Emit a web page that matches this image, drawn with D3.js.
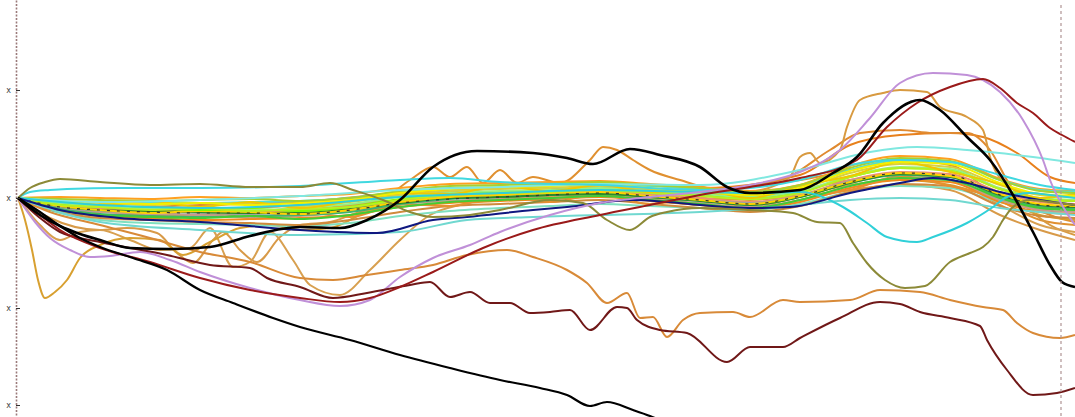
<!DOCTYPE html>
<html>
<head>
<meta charset="utf-8">
<script src="https://cdn.jsdelivr.net/npm/d3@7"></script>
<style>
  html, body { margin: 0; padding: 0; background: #fff; }
  svg { display: block; }
</style>
</head>
<body>
<svg id="chart" width="1075" height="417"></svg>
<script>
// --- data: step (x) and change from start (y) ---
const yTicks = [108, 0, -110, -207];
const yTickLabels = ['x', 'x', 'x', 'x'];

const blackLow = [[0,0],[22,-14],[42,-28],[62,-40],[82,-49],[115,-60],[149,-72],[182,-92],[215,-105],[255,-120],[282,-129],[332,-142],[382,-157],[432,-170],[482,-182],[522,-190],[549,-197],[572,-208],[589,-204],[615,-212],[632,-218],[662,-232]];
const blackHigh = [[0,0],[22,-17],[42,-28],[62,-36],[82,-42],[112,-50],[152,-51],[192,-49],[232,-38],[282,-29],[322,-30],[349,-22],[382,-2],[415,31],[459,47],[515,45],[549,40],[575,34],[612,49],[642,43],[682,31],[709,11],[732,5],[782,8],[815,25],[839,41],[865,75],[902,98],[922,88],[949,61],[972,38],[995,3],[1015,-34],[1032,-67],[1044,-84],[1057,-89]];
const maroonRise = [[0,0],[22,-17],[42,-32],[82,-50],[132,-64],[182,-80],[232,-92],[282,-100],[322,-104],[352,-100],[382,-89],[415,-74],[465,-50],[515,-32],[582,-17],[632,-7],[682,3],[732,11],[782,20],[839,38],[869,71],[899,95],[932,111],[965,119],[982,110],[999,95],[1015,85],[1032,70],[1044,63],[1057,56]];
const maroonLow = [[0,0],[22,-20],[42,-34],[82,-44],[149,-57],[192,-67],[232,-70],[249,-80],[282,-89],[315,-100],[349,-95],[392,-87],[412,-84],[432,-99],[452,-94],[472,-105],[492,-105],[512,-115],[532,-114],[552,-112],[572,-132],[599,-109],[609,-110],[619,-122],[642,-132],[669,-135],[709,-164],[732,-149],[765,-149],[782,-140],[822,-120],[862,-104],[882,-106],[902,-114],[932,-120],[962,-128],[969,-142],[989,-172],[1015,-197],[1039,-195],[1057,-190]];
const lavender = [[0,0],[17,-24],[32,-40],[52,-52],[72,-59],[92,-58],[122,-54],[152,-62],[182,-74],[232,-90],[282,-102],[322,-108],[352,-102],[382,-79],[415,-60],[452,-47],[482,-34],[532,-17],[582,-5],[632,1],[682,6],[732,13],[782,26],[822,48],[852,80],[882,115],[915,125],[949,123],[965,118],[982,106],[1005,78],[1025,38],[1032,18],[1044,-7],[1057,-27]];
const cyanTop = [[0,0],[12,6],[32,8],[49,9],[102,10],[182,10],[282,12],[382,18],[432,20],[482,16],[582,13],[682,8],[732,10],[782,18],[832,33],[882,38],[932,36],[982,23],[1022,13],[1057,8]];
const cyanDip = [[0,0],[82,-7],[182,-10],[282,-7],[382,1],[482,5],[582,8],[682,6],[742,5],[782,6],[825,-9],[849,-25],[869,-39],[899,-44],[915,-39],[949,-25],[975,-9],[989,1],[1012,5],[1032,3],[1057,0]];
const paleCyan = [[0,0],[82,-4],[182,-2],[282,2],[382,8],[482,11],[582,14],[682,13],[782,28],[852,46],[899,51],[949,48],[1015,41],[1057,35]];
const olive = [[0,0],[12,10],[27,16],[42,19],[82,16],[132,13],[182,14],[232,11],[282,11],[312,15],[335,8],[365,-2],[392,-14],[415,-19],[452,-17],[482,-12],[532,-2],[565,-5],[589,-22],[612,-32],[632,-19],[649,-14],[682,-10],[732,-12],[775,-15],[799,-24],[822,-25],[835,-45],[849,-65],[867,-82],[887,-90],[907,-88],[932,-64],[952,-55],[965,-49],[975,-39],[985,-22],[995,-9],[1012,-2],[1032,-4],[1057,-7]];
const navy = [[0,0],[42,-12],[102,-20],[182,-24],[282,-32],[359,-35],[415,-22],[449,-19],[515,-12],[549,-9],[615,-2],[649,-4],[682,-7],[732,-10],[772,-9],[832,5],[882,15],[915,20],[949,15],[982,6],[1022,-2],[1057,-7]];
const turquoiseLow = [[0,0],[82,-24],[182,-32],[282,-37],[382,-34],[449,-22],[515,-19],[582,-17],[682,-14],[782,-7],[832,-2],[882,0],[932,-2],[982,-10],[1022,-14],[1057,-17]];
const orangeDrop = [[0,0],[7,-22],[14,-52],[20,-82],[27,-100],[37,-94],[49,-82],[62,-60],[82,-47],[112,-40],[142,-42],[165,-57],[192,-44],[222,-30],[252,-27],[282,-32],[312,-30],[342,-17],[382,-2],[432,3],[482,1],[532,6],[582,8],[632,3],[682,0],[732,-2],[782,3],[832,13],[882,18],[932,13],[982,-2],[1022,-17],[1057,-22]];
const sandyLow = [[0,0],[32,-14],[82,-27],[132,-40],[182,-54],[232,-64],[282,-80],[315,-82],[349,-77],[382,-72],[415,-67],[449,-57],[489,-52],[515,-59],[549,-72],[569,-85],[589,-105],[609,-95],[622,-120],[635,-119],[649,-139],[665,-122],[682,-115],[715,-114],[732,-119],[765,-102],[782,-104],[832,-102],[862,-92],[902,-94],[932,-102],[965,-109],[985,-112],[999,-125],[1015,-135],[1042,-140],[1057,-137]];
const sandyWave = [[0,0],[32,-20],[82,-32],[109,-30],[139,-35],[159,-55],[175,-65],[195,-42],[205,-34],[222,-52],[239,-64],[262,-39],[282,-27],[312,-24],[342,-14],[382,-7],[415,3],[452,8],[482,3],[532,5],[582,6],[632,-2],[682,-7],[732,-12],[782,-2],[832,8],[882,13],[932,8],[982,-17],[1022,-32],[1057,-42]];
const sandyWave2 = [[0,0],[22,-27],[42,-42],[62,-34],[82,-32],[112,-42],[142,-52],[172,-50],[192,-30],[215,-69],[232,-64],[252,-34],[275,-62],[292,-87],[322,-97],[352,-72],[382,-42],[412,-17],[442,-7],[482,-2],[582,3],[682,-2],[782,8],[832,18],[882,23],[932,18],[982,-7],[1022,-27],[1057,-34]];
const orangePeak = [[0,0],[82,-17],[182,-17],[282,-12],[382,-2],[482,6],[582,8],[682,3],[732,6],[772,21],[782,41],[792,45],[802,35],[822,48],[829,71],[842,98],[865,105],[882,108],[909,106],[922,91],[949,81],[965,68],[972,41],[992,8],[1012,-12],[1032,-27],[1057,-37]];
const orangeHigh = [[0,0],[82,-14],[182,-12],[282,-7],[382,3],[482,10],[582,15],[682,10],[782,23],[832,53],[882,63],[932,65],[965,61],[999,45],[1032,21],[1057,15]];
const peruWave = [[0,0],[82,-12],[182,-14],[282,-12],[362,-2],[392,18],[415,31],[432,21],[449,31],[465,15],[482,28],[499,15],[515,21],[542,15],[572,38],[585,51],[599,48],[615,38],[632,28],[662,18],[702,8],[742,13],[782,18],[832,28],[882,38],[932,33],[982,-2],[1022,-22],[1057,-27]];
const orangeShoulder = [[0,0],[82,-10],[182,-7],[282,-4],[382,5],[482,10],[582,10],[682,8],[762,18],[812,48],[842,65],[882,68],[915,65],[949,65],[972,48],[992,13],[1012,-7],[1032,-17],[1057,-24]];

// the dense band: shared steps, one value list per line
const bandSteps = [0,42,82,132,182,232,282,332,382,432,482,532,582,632,682,732,782,832,882,932,982,1022,1057];
const bandYellow = [0,-3,-4,-6,-5,-7,-5,-2,5,9,11,12,14,10,6,3,10,27,36,34,15,4,2];
const bandGold = [0,-8,-12,-15,-13,-14,-16,-12,-4,1,3,5,6,2,-2,-6,2,16,25,22,4,-6,-8];
const bandYellowGreen = [0,-1,-2,-3,-2,-1,-3,0,7,12,13,14,16,13,10,6,13,30,40,37,18,7,5];
const bandLawn = [0,-6,-9,-10,-12,-11,-13,-9,-1,4,6,7,9,6,3,0,6,21,30,28,9,-1,-3];
const bandLime = [0,-12,-17,-19,-20,-18,-21,-17,-9,-4,-2,0,2,-2,-6,-10,-2,12,20,18,0,-10,-12];
const bandLightGreen = [0,-5,-8,-11,-10,-12,-10,-6,1,5,7,8,10,7,4,1,7,22,31,29,10,0,-2];
const bandDarkOrange = [0,-12,-18,-20,-22,-21,-20,-17,-9,-5,-3,-1,1,-3,-7,-11,-4,10,18,16,-4,-14,-16];
const bandOrange = [0,1,0,-1,1,0,2,4,10,14,15,16,17,14,11,7,13,32,42,39,19,9,7];
const bandPeru = [0,-14,-20,-22,-24,-25,-27,-22,-14,-8,-6,-4,-2,-6,-10,-14,-8,6,14,12,-8,-18,-20];
const bandSalmon = [0,-7,-11,-12,-14,-13,-12,-9,-3,2,4,5,7,4,0,-4,3,18,26,24,6,-4,-6];
const bandGray = [0,-9,-13,-14,-15,-16,-14,-10,-4,1,2,4,5,2,-2,-5,2,17,24,22,2,-8,-10];
const bandForest = [0,-8,-12,-13,-14,-15,-15,-11,-5,0,1,3,4,1,-3,-7,1,15,24,21,3,-7,-9];
const bandTurquoise = [0,-3,-4,-5,-5,-4,-3,0,6,10,11,12,14,12,9,6,12,28,38,36,18,8,6];
const bandAqua = [0,-15,-22,-25,-26,-27,-28,-25,-18,-13,-10,-8,-6,-8,-10,-12,-6,6,12,10,-4,-10,-12];
const bandKhaki = [0,-3,-5,-7,-5,-6,-8,-4,3,7,9,10,12,9,6,3,9,25,34,31,13,3,1];
const bandChartreuse = [0,-7,-9,-12,-10,-13,-11,-9,-2,3,5,6,8,5,2,-1,5,21,30,27,9,-1,-3];
const bandSeaGreen = [0,-11,-16,-18,-19,-18,-17,-14,-6,-1,1,3,5,1,-3,-7,1,15,23,21,1,-9,-11];
const bandGoldWave = [0,-2,-7,-3,-9,-4,-10,-3,5,4,12,7,13,6,8,0,12,22,36,26,14,0,4];
const bandOrangeWave = [0,-13,-9,-18,-12,-20,-14,-19,-6,-8,2,-4,4,-6,0,-10,2,8,22,12,0,-12,-8];
const bandRosy = [0,-10,-14,-16,-17,-19,-18,-13,-6,-3,-1,0,2,-1,-5,-9,-2,12,20,18,-2,-12,-14];
const bandDashed = [0,-9,-12,-14,-15,-15,-16,-12,-5,-1,1,3,5,2,-2,-6,2,16,25,23,3,-7,-9];

// --- layout ---
const width = 1075, height = 417;
const svg = d3.select('#chart');

const x = d3.scaleLinear().domain([0, 1057]).range([18, 1075]);
const y = d3.scaleLinear().domain([198, -219]).range([0, height]);

const line = d3.line()
  .x(d => x(d[0]))
  .y(d => y(d[1]))
  .curve(d3.curveMonotoneX);

const band = (vals) => bandSteps.map((t, i) => [t, vals[i]]);

const g = svg.append('g');

function drawLines(list) {
  list.forEach(([pts, color, w]) => {
    g.append('path')
      .attr('d', line(pts))
      .attr('fill', 'none')
      .attr('stroke', color)
      .attr('stroke-width', w || 2)
      .attr('stroke-linejoin', 'round');
  });
}

// orange lines that run through the band sit underneath it
drawLines([
  [orangeHigh, '#e8801c'],
  [orangeShoulder, '#e08a30'],
  [peruWave, '#e09030'],
  [orangePeak, '#d89a40'],
  [sandyWave, '#d89a48'],
  [sandyWave2, '#d8a050'],
  [orangeDrop, '#d8a030'],
  [sandyLow, '#d88a38']
]);

// the band, oranges first and the yellows/greens on top
drawLines([
  [band(bandAqua), '#7fe0c0'], [band(bandPeru), '#d08a3c'], [band(bandDarkOrange), '#f08a1c'],
  [band(bandOrangeWave), '#e89030'], [band(bandOrange), '#ffa020'], [band(bandRosy), '#c89a8a'],
  [band(bandSalmon), '#f09070'], [band(bandGray), '#a0a0a0'], [band(bandSeaGreen), '#3cb371'],
  [band(bandForest), '#2a8a2a'], [band(bandLime), '#44cc33'], [band(bandGold), '#ffd200'],
  [band(bandTurquoise), '#50e0d0'], [band(bandKhaki), '#d8d040'], [band(bandLawn), '#7cfc00'],
  [band(bandLightGreen), '#98f080'], [band(bandChartreuse), '#b8f020'], [band(bandGoldWave), '#f0c800'],
  [band(bandYellowGreen), '#a8d030'], [band(bandYellow), '#f4f000']
]);

g.append('path')
  .attr('d', line(band(bandDashed)))
  .attr('fill', 'none')
  .attr('stroke', '#333')
  .attr('stroke-width', 1.2)
  .attr('stroke-dasharray', '3,7');

// stand-out lines on top
drawLines([
  [turquoiseLow, '#70d8d0'],
  [paleCyan, '#80e8e0'],
  [cyanTop, '#40d8e0'],
  [cyanDip, '#30d0d8'],
  [navy, '#101880'],
  [olive, '#8c8a38'],
  [lavender, '#c090d8'],
  [maroonLow, '#701818'],
  [maroonRise, '#9a1a1a'],
  [blackLow, '#000', 2.2],
  [blackHigh, '#000', 2.6]
]);

// left axis: dotted rule with little "x" marks
const axis = svg.append('g')
  .attr('transform', 'translate(16,0)')
  .call(d3.axisLeft(y)
    .tickValues(yTicks)
    .tickFormat((d, i) => yTickLabels[i])
    .tickSizeInner(-4)
    .tickSizeOuter(0)
    .tickPadding(5));

axis.select('.domain')
  .attr('stroke', '#9a7a7a')
  .attr('stroke-width', 1.6)
  .attr('stroke-dasharray', '2,1.5');
axis.selectAll('.tick line').attr('stroke', '#333');
axis.selectAll('.tick text')
  .attr('font-family', 'DejaVu Sans, sans-serif')
  .attr('font-size', 8)
  .attr('fill', '#444');

// right-hand dashed rule
svg.append('line')
  .attr('x1', 1061).attr('x2', 1061)
  .attr('y1', 5).attr('y2', height)
  .attr('stroke', '#b09494')
  .attr('stroke-width', 1.2)
  .attr('stroke-dasharray', '3,3');
</script>
</body>
</html>
